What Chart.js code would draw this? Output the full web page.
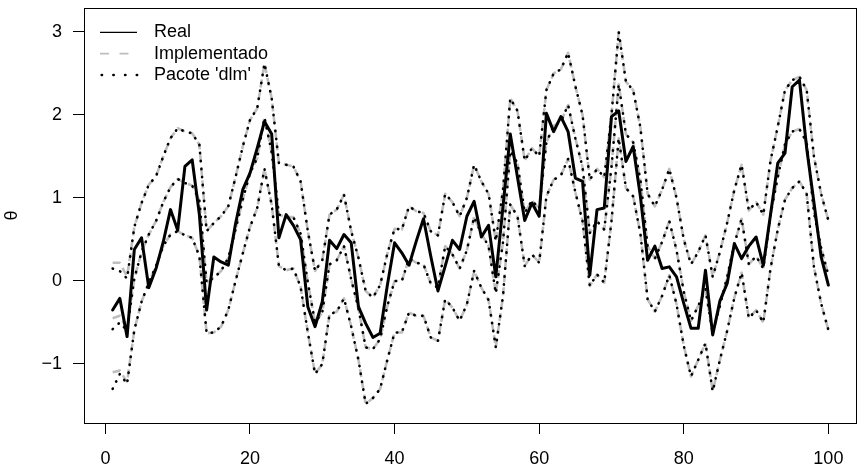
<!DOCTYPE html>
<html><head><meta charset="utf-8">
<script src="https://cdn.jsdelivr.net/npm/chart.js@4.4.1/dist/chart.umd.min.js"></script>
<style>html,body{margin:0;padding:0;background:#fff;}#wrap{width:858px;height:470px;}</style>
</head><body><div id="wrap"><canvas id="c" width="858" height="470"></canvas></div>
<script>
const xValues = [1,2,3,4,5,6,7,8,9,10,11,12,13,14,15,16,17,18,19,20,
21,22,23,24,25,26,27,28,29,30,31,32,33,34,35,36,37,38,39,40,
41,42,43,44,45,46,47,48,49,50,51,52,53,54,55,56,57,58,59,60,
61,62,63,64,65,66,67,68,69,70,71,72,73,74,75,76,77,78,79,80,
81,82,83,84,85,86,87,88,89,90,91,92,93,94,95,96,97,98,99,100];

const real = [-0.35,-0.21,-0.67,0.38,0.52,-0.08,0.15,0.47,0.86,0.61,
1.38,1.46,0.8,-0.35,0.29,0.23,0.19,0.69,1.1,1.3,
1.6,1.92,1.77,0.52,0.8,0.67,0.5,-0.31,-0.55,-0.25,
0.49,0.39,0.56,0.46,-0.31,-0.51,-0.68,-0.63,-0.05,0.46,
0.34,0.19,0.48,0.75,0.3,-0.12,0.18,0.49,0.38,0.78,
0.96,0.53,0.67,0.05,0.9,1.77,1.25,0.73,0.94,0.78,
2.02,1.8,1.98,1.8,1.24,1.2,0.07,0.86,0.88,1.98,
2.05,1.44,1.62,1.02,0.25,0.42,0.15,0.17,0.05,-0.27,
-0.57,-0.57,0.13,-0.65,-0.24,-0.03,0.45,0.27,0.42,0.53,
0.19,0.8,1.42,1.54,2.34,2.42,1.6,0.95,0.29,-0.05];

const implUpper = [0.22,0.22,0.05,0.65,0.94,1.16,1.26,1.5,1.72,1.84,
1.8,1.78,1.64,0.6,0.7,0.78,0.9,1.25,1.62,1.94,
2.08,2.62,2.2,1.42,1.4,1.38,1.2,0.6,0.12,0.25,
0.8,0.86,1.04,0.6,0.28,-0.12,-0.2,-0.05,0.33,0.63,
0.62,0.9,0.84,0.82,0.6,0.55,1.05,0.95,0.78,1.0,
1.4,1.2,1.05,0.48,1.1,2.2,2.05,1.45,1.6,1.5,
2.3,2.5,2.55,2.75,2.35,2.0,1.22,1.35,1.25,2.0,
3.0,2.4,2.3,1.85,1.05,0.9,1.1,1.35,1.0,0.5,
0.2,0.35,0.55,0.05,0.35,0.7,1.1,1.4,0.85,0.95,
0.8,1.45,1.86,2.3,2.42,2.46,2.3,1.5,1.05,0.73];

const implMean = [-0.45,-0.42,-0.58,0.03,0.35,0.56,0.72,0.95,1.13,1.23,
1.18,1.15,0.97,-0.02,0.04,0.12,0.28,0.62,0.98,1.3,
1.48,1.97,1.55,0.8,0.77,0.77,0.57,-0.02,-0.5,-0.38,
0.2,0.25,0.42,0.02,-0.33,-0.8,-0.82,-0.7,-0.3,0.0,
0.0,0.27,0.22,0.2,-0.03,-0.08,0.42,0.32,0.15,0.37,
0.77,0.57,0.42,-0.15,0.47,1.57,1.42,0.82,0.97,0.87,
1.67,1.87,1.92,2.12,1.72,1.37,0.58,0.72,0.62,1.37,
2.37,1.77,1.67,1.22,0.42,0.27,0.47,0.72,0.37,-0.13,
-0.48,-0.3,-0.1,-0.63,-0.3,0.05,0.45,0.75,0.2,0.3,
0.15,0.8,1.25,1.65,1.8,1.83,1.67,0.83,0.4,0.07];

const implLower = [-1.1,-1.08,-1.22,-0.59,-0.25,-0.02,0.18,0.42,0.56,0.6,
0.55,0.52,0.3,-0.63,-0.62,-0.55,-0.35,0.0,0.33,0.65,
0.88,1.35,0.92,0.18,0.13,0.15,-0.07,-0.62,-1.12,-1.0,
-0.4,-0.37,-0.21,-0.55,-0.95,-1.48,-1.41,-1.3,-0.95,-0.62,
-0.62,-0.38,-0.42,-0.42,-0.68,-0.72,-0.22,-0.32,-0.48,-0.28,
0.12,-0.08,-0.23,-0.8,-0.18,0.92,0.78,0.18,0.32,0.22,
1.02,1.22,1.27,1.47,1.07,0.72,-0.06,0.08,-0.02,0.72,
1.72,1.12,1.02,0.57,-0.22,-0.37,-0.18,0.07,-0.28,-0.78,
-1.15,-0.95,-0.75,-1.33,-0.95,-0.6,-0.2,0.1,-0.45,-0.35,
-0.5,0.15,0.62,0.98,1.12,1.2,1.05,0.17,-0.27,-0.59];

// the 'dlm' package differs from the implementation only at the first steps
const dlmUpperStart = [0.15,0.12,0.03];
const dlmMeanStart  = [-0.58,-0.5,-0.6];
const dlmLowerStart = [-1.3,-1.12,-1.24];

const xTicks = [0,20,40,60,80,100];
const yTicks = [-1,0,1,2,3];
const legendLabels = ['Real','Implementado',"Pacote 'dlm'"];
const yTitle = '\u03B8';

const withStart = (arr, start) => arr.map((v,i)=> i < start.length ? start[i] : v);
const dlmUpper = withStart(implUpper, dlmUpperStart);
const dlmMean  = withStart(implMean, dlmMeanStart);
const dlmLower = withStart(implLower, dlmLowerStart);

const pts = arr => xValues.map((x,i)=>({x:x, y:arr[i]}));
const GRAY = '#bebebe';
const FONT = 'Liberation Sans, Arial, Helvetica, sans-serif';

const dotStyle = {borderColor:'#000', borderWidth:2.6, borderDash:[0.4,7.6], borderCapStyle:'round',
  borderJoinStyle:'round', pointRadius:0, pointHoverRadius:0, fill:false, tension:0};
const dashStyle = {borderColor:GRAY, borderWidth:2.6, borderDash:[8,5], borderCapStyle:'butt',
  borderJoinStyle:'round', pointRadius:0, pointHoverRadius:0, fill:false, tension:0};
const realStyle = {borderColor:'#000', borderWidth:3, borderCapStyle:'round',
  borderJoinStyle:'round', pointRadius:0, pointHoverRadius:0, fill:false, tension:0};

const framePlugin = {
  id:'frameLegend',
  afterDraw(chart){
    const {ctx, chartArea:a} = chart;
    ctx.save();
    ctx.setLineDash([]);
    ctx.strokeStyle = '#000';
    ctx.lineWidth = 1;
    ctx.strokeRect(Math.round(a.left)+0.5, Math.round(a.top)+0.5,
                   Math.round(a.right-a.left)-1, Math.round(a.bottom-a.top));
    // legend (no box)
    const rows = [32.3, 53.7, 75];
    const x0 = 100, x1 = 137, tx = 154;
    ctx.beginPath(); ctx.lineWidth = 1.2; ctx.strokeStyle = '#000'; ctx.lineCap='butt';
    ctx.moveTo(x0, rows[0]); ctx.lineTo(x1, rows[0]); ctx.stroke();
    ctx.beginPath(); ctx.lineWidth = 1.8; ctx.strokeStyle = GRAY; ctx.setLineDash([9,10.5]);
    ctx.moveTo(x0, rows[1]); ctx.lineTo(x1, rows[1]); ctx.stroke();
    ctx.beginPath(); ctx.lineWidth = 2.6; ctx.strokeStyle = '#000'; ctx.lineCap='round';
    ctx.setLineDash([0.3, 11.4]);
    ctx.moveTo(x0+1.7, rows[2]); ctx.lineTo(x1+1, rows[2]); ctx.stroke();
    ctx.setLineDash([]);
    ctx.fillStyle = '#000';
    ctx.font = '18px ' + FONT;
    ctx.textAlign = 'left'; ctx.textBaseline = 'middle';
    legendLabels.forEach((t,i)=> ctx.fillText(t, tx, rows[i]));
    ctx.restore();
  }
};

Chart.defaults.color = '#000';
Chart.defaults.font.family = FONT;
Chart.defaults.font.size = 18;

new Chart(document.getElementById('c'), {
  type:'line',
  data:{ datasets:[
    Object.assign({label:"Pacote 'dlm' sup", data:pts(dlmUpper)}, dotStyle),
    Object.assign({label:"Pacote 'dlm'", data:pts(dlmMean)}, dotStyle),
    Object.assign({label:"Pacote 'dlm' inf", data:pts(dlmLower)}, dotStyle),
    Object.assign({label:'Real', data:pts(real)}, realStyle),
    Object.assign({label:'Implementado sup', data:pts(implUpper)}, dashStyle),
    Object.assign({label:'Implementado', data:pts(implMean)}, dashStyle),
    Object.assign({label:'Implementado inf', data:pts(implLower)}, dashStyle)
  ]},
  options:{
    responsive:false, animation:false, devicePixelRatio:1,
    layout:{padding:{top:8, right:1, bottom:0, left:0}},
    plugins:{legend:{display:false}, tooltip:{enabled:false}},
    events:[],
    scales:{
      x:{type:'linear', min:-2.96, max:103.96,
        afterBuildTicks:s=>{ s.ticks = xTicks.map(v=>({value:v})); },
        afterFit:s=>{ s.height = 47; s.paddingLeft = 0; s.paddingRight = 0; },
        grid:{display:true, drawOnChartArea:false, drawTicks:true, tickLength:11, color:'#000', lineWidth:1},
        border:{display:false},
        ticks:{color:'#000', padding:14, maxRotation:0, autoSkip:false, font:{size:18},
          callback:v=>String(v)}
      },
      y:{type:'linear', min:-1.711, max:3.289,
        afterBuildTicks:s=>{ s.ticks = yTicks.map(v=>({value:v})); },
        afterFit:s=>{ s.width = 84; s.paddingTop = 0; s.paddingBottom = 0; },
        grid:{display:true, drawOnChartArea:false, drawTicks:true, tickLength:11, color:'#000', lineWidth:1},
        border:{display:false},
        ticks:{color:'#000', padding:11, autoSkip:false, font:{size:18},
          callback:v=> v<0 ? '\u2212'+Math.abs(v) : String(v)},
        title:{display:true, text:yTitle, color:'#000', font:{size:18}, padding:{top:1,bottom:0}}
      }
    }
  },
  plugins:[framePlugin]
});
</script></body></html>
